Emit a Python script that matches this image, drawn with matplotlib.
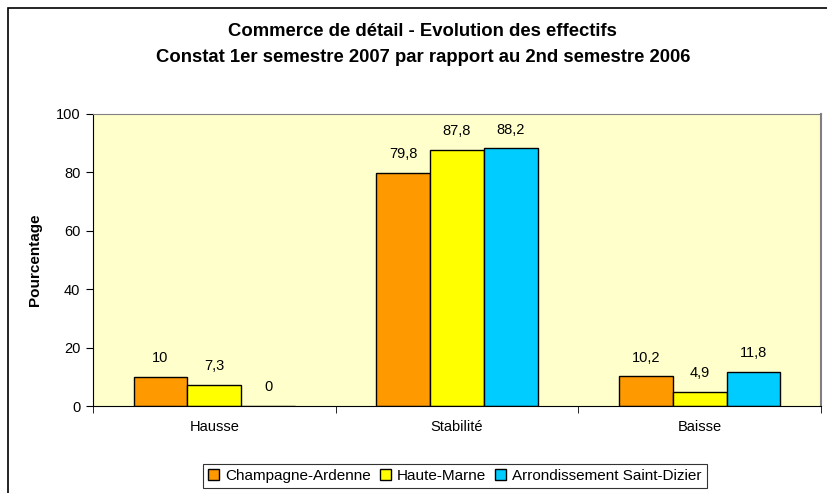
import matplotlib
matplotlib.use('Agg')
import matplotlib.pyplot as plt
import matplotlib.patches as mpatches
import numpy as np

categories = ['Hausse', 'Stabilité', 'Baisse']
series_names = ['Champagne-Ardenne', 'Haute-Marne', 'Arrondissement Saint-Dizier']
champagne = [10, 79.8, 10.2]
haute_marne = [7.3, 87.8, 4.9]
saint_dizier = [0, 88.2, 11.8]
colors = ['#FF9900', '#FFFF00', '#00CCFF']
yticks = [0, 20, 40, 60, 80, 100]

plt.rcParams['font.family'] = ['Liberation Sans', 'DejaVu Sans']

fig = plt.figure(figsize=(8.27, 4.93), dpi=100)
ax = fig.add_axes([93/827, 1 - 406/493, (821 - 93)/827, (406 - 114)/493])
ax.set_facecolor('#FFFFCC')

x = np.arange(len(categories))
w = 0.222
for i, (vals, col) in enumerate(zip([champagne, haute_marne, saint_dizier], colors)):
    pos = x + (i - 1) * w
    ax.bar(pos, vals, width=w, color=col, edgecolor='black', linewidth=1, label=series_names[i])
    for p, v in zip(pos, vals):
        txt = ('%g' % v).replace('.', ',')
        ax.text(p, v + 4, txt, ha='center', va='bottom', fontsize=10.5)

ax.set_xlim(-0.5, 2.5)
ax.set_ylim(0, 100)
ax.set_yticks(yticks)
ax.set_xticks(x)
ax.set_xticklabels(categories, fontsize=10.5)
ax.set_xticks([-0.5, 0.5, 1.5, 2.5], minor=True)
ax.tick_params(axis='x', which='major', length=0, pad=10)
ax.tick_params(axis='x', which='minor', length=5, direction='out')
ax.tick_params(axis='y', labelsize=10.5, length=5, direction='out', pad=4)
ax.set_ylabel('Pourcentage', fontsize=11, fontweight='bold', labelpad=10)

ax.spines['left'].set_color('black')
ax.spines['bottom'].set_color('black')
ax.spines['top'].set_color('#808080')
ax.spines['right'].set_color('#808080')
ax.spines['right'].set_linewidth(1.5)

fig.text(422/827, 1 - 32/493, 'Commerce de détail - Evolution des effectifs',
         ha='center', va='center', fontsize=13.3, fontweight='bold')
fig.text(423/827, 1 - 57/493, 'Constat 1er semestre 2007 par rapport au 2nd semestre 2006',
         ha='center', va='center', fontsize=13.3, fontweight='bold')

leg = fig.legend(loc='center', bbox_to_anchor=(455/827, 1 - 476/493), ncol=3,
                 fontsize=11, frameon=True, fancybox=False, handlelength=0.7,
                 handleheight=0.7, handletextpad=0.4, columnspacing=0.6,
                 borderpad=0.35, borderaxespad=0)
leg.get_frame().set_edgecolor('black')
leg.get_frame().set_linewidth(0.8)

# outer chart frame (left and top visible, rest cropped)
frame = mpatches.Rectangle((8/827, -0.1), 1.2, 1 - 8/493 + 0.1, transform=fig.transFigure,
                           fill=False, edgecolor='black', linewidth=1.2, clip_on=False)
fig.add_artist(frame)

fig.savefig('out.png', dpi=100)
